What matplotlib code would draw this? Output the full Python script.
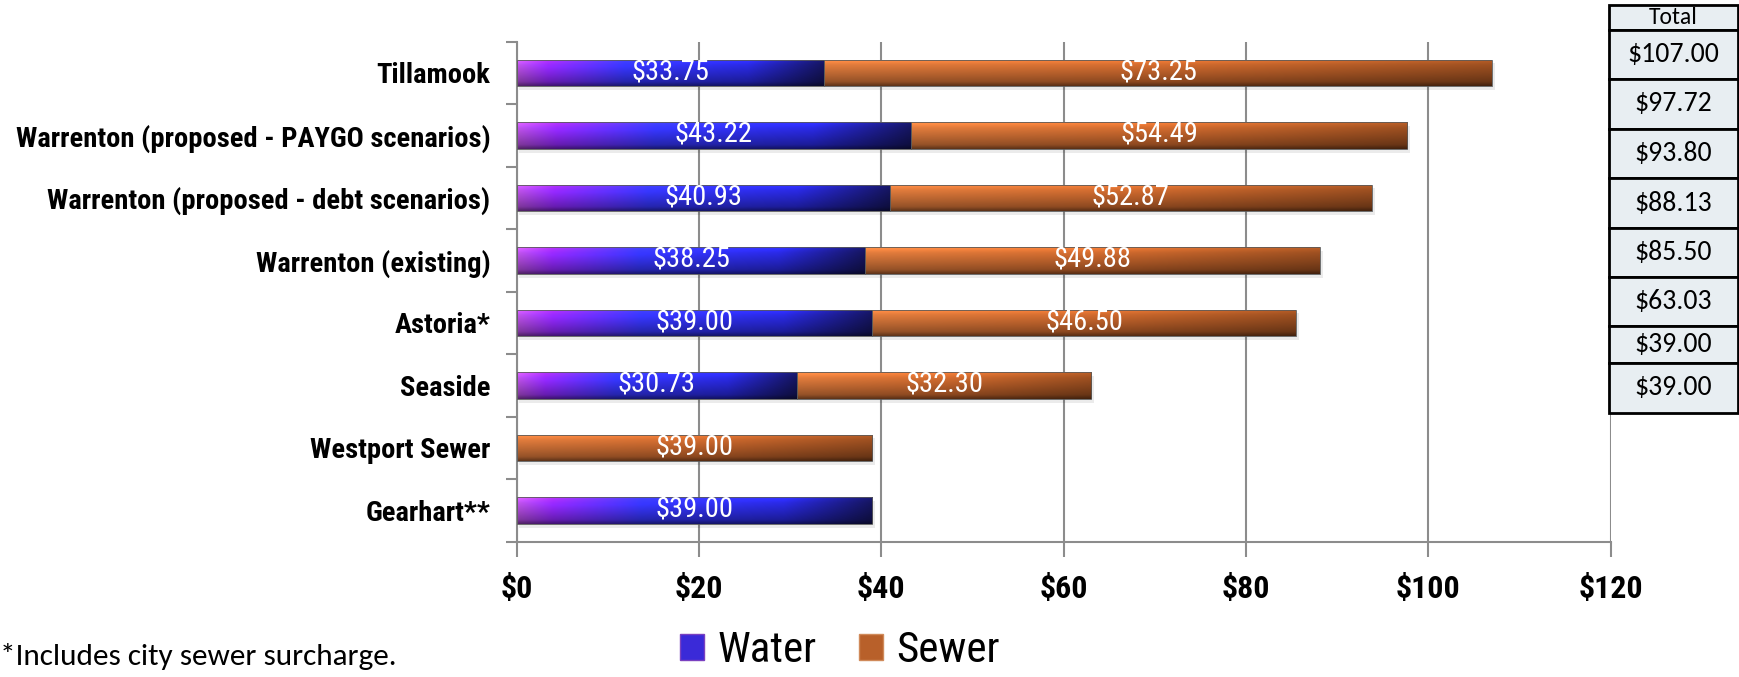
import numpy as np
import matplotlib
matplotlib.use("Agg")
import matplotlib.pyplot as plt
from matplotlib.patches import Rectangle, Patch
from matplotlib.colors import to_rgb

# data
cities = ["Tillamook", "Warrenton (proposed - PAYGO scenarios)",
          "Warrenton (proposed - debt scenarios)", "Warrenton (existing)",
          "Astoria*", "Seaside", "Westport Sewer", "Gearhart**"]
water = [33.75, 43.22, 40.93, 38.25, 39.00, 30.73, 0.0, 39.00]
sewer = [73.25, 54.49, 52.87, 49.88, 46.50, 32.30, 39.00, 0.0]
totals = ["$107.00", "$97.72", "$93.80", "$88.13", "$85.50", "$63.03", "$39.00", "$39.00"]
xticks = [0, 20, 40, 60, 80, 100, 120]

NARROW = ["Roboto Condensed", "DejaVu Sans"]
CAL = ["Carlito", "DejaVu Sans"]

fig = plt.figure(figsize=(17.4, 6.77), dpi=100)
ax = fig.add_axes([516.7 / 1740, 1 - 541.7 / 677, 1094 / 1740, 500 / 677])

n = len(cities)
ypos = np.arange(n)[::-1]
h = 0.43

bw = ax.barh(ypos, water, height=h, color="#3030d0", zorder=2)
bs = ax.barh(ypos, sewer, left=water, height=h, color="#b8602a", zorder=2)


def ramp(stops, nx):
    xs = np.linspace(0, 1, nx)
    pos = [s[0] for s in stops]
    cols = np.array([to_rgb(s[1]) for s in stops])
    return np.stack([np.interp(xs, pos, cols[:, k]) for k in range(3)], axis=-1)


water_stops = [(0, "#a448c8"), (0.1, "#8424e4"), (0.35, "#3030e0"),
               (0.75, "#2424c4"), (1.0, "#121250")]
sewer_stops = [(0, "#c06a34"), (0.5, "#b45c28"), (1.0, "#86441c")]
# vertical shading, bottom (row 0) -> top
vshade = np.interp(np.linspace(0, 1, 30), [0, 0.15, 0.5, 0.8, 1.0],
                   [0.5, 0.78, 1.0, 1.18, 1.4])


def shade(bars, stops):
    for p in bars:
        w = p.get_width()
        if w <= 0:
            continue
        x0, y0, hh = p.get_x(), p.get_y(), p.get_height()
        # soft shadow under the bar
        ax.add_patch(Rectangle((x0 + 0.3, y0 - 0.06), w, hh, fc="#000000",
                               alpha=0.08, lw=0, zorder=1.5))
        img = ramp(stops, 300)[None, :, :] * vshade[:, None, None]
        img = np.clip(img, 0, 1)
        im = ax.imshow(img, extent=[x0, x0 + w, y0, y0 + hh], origin="lower",
                       aspect="auto", zorder=2.5, interpolation="bilinear")
        im.set_clip_path(p)
        ax.add_patch(Rectangle((x0, y0), w, hh, fill=False, ec="#5a5a5a",
                               lw=0.6, zorder=2.6))


shade(bw, water_stops)
shade(bs, sewer_stops)

for i in range(n):
    if water[i] > 0:
        ax.text(water[i] / 2, ypos[i], "$%.2f" % water[i], color="white",
                ha="center", va="center", fontsize=20.5, family=NARROW, zorder=4)
    if sewer[i] > 0:
        ax.text(water[i] + sewer[i] / 2, ypos[i], "$%.2f" % sewer[i], color="white",
                ha="center", va="center", fontsize=20.5, family=NARROW, zorder=4)

ax.set_xlim(0, 120)
ax.set_ylim(-0.5, n - 0.5)
ax.set_xticks(xticks)
ax.set_xticklabels(["$%d" % v for v in xticks], fontsize=23, fontweight="bold",
                   family=NARROW)
ax.set_yticks(ypos)
ax.set_yticklabels(cities, fontsize=20.5, fontweight="bold", family=NARROW)
ax.set_yticks(np.arange(-0.5, n, 1.0), minor=True)
ax.tick_params(axis="y", which="major", length=0, pad=19)
ax.tick_params(axis="y", which="minor", length=8, color="#8c8c8c", width=1.5)
ax.tick_params(axis="x", length=11, color="#8c8c8c", width=1.5, pad=12)
ax.grid(axis="x", color="#8c8c8c", lw=1.5, zorder=0)
ax.set_axisbelow(True)
for s in ["top", "right"]:
    ax.spines[s].set_visible(False)
for s in ["left", "bottom"]:
    ax.spines[s].set_color("#8c8c8c")
    ax.spines[s].set_linewidth(1.5)

# totals table on the right
tab = fig.add_axes([1609 / 1740, 1 - 413 / 677, 129 / 1740, 408 / 677])
tab.set_xlim(0, 1)
tab.set_ylim(413, 5)
tab.axis("off")
edges = [5, 30, 79, 129, 178, 228, 277, 326, 363, 413]
cells = ["Total"] + totals
for k, txt in enumerate(cells):
    top, bot = edges[k], edges[k + 1]
    tab.add_patch(Rectangle((0, top), 1, bot - top, fc="#e8eef2", ec="black",
                            lw=2, clip_on=False))
    tab.text(0.5, (top + bot) / 2, txt, ha="center", va="center",
             fontsize=17 if k == 0 else 20, family=CAL)

# legend and footnote
handles = [Patch(fc="#3a2ad8", ec="#7a40c0", label="Water"),
           Patch(fc="#b8602a", ec="#d08a5a", label="Sewer")]
fig.legend(handles=handles, loc="center", bbox_to_anchor=(840 / 1740, 1 - 651 / 677),
           ncol=2, frameon=False, prop={"family": NARROW, "size": 31},
           handlelength=0.55, handleheight=0.55, handletextpad=0.3, columnspacing=1.0,
           borderpad=0, borderaxespad=0)
fig.text(0, 1 - 656 / 677, "*Includes city sewer surcharge.", fontsize=22.5,
         family=CAL, va="center", ha="left")

fig.savefig("out.png", dpi=100)
